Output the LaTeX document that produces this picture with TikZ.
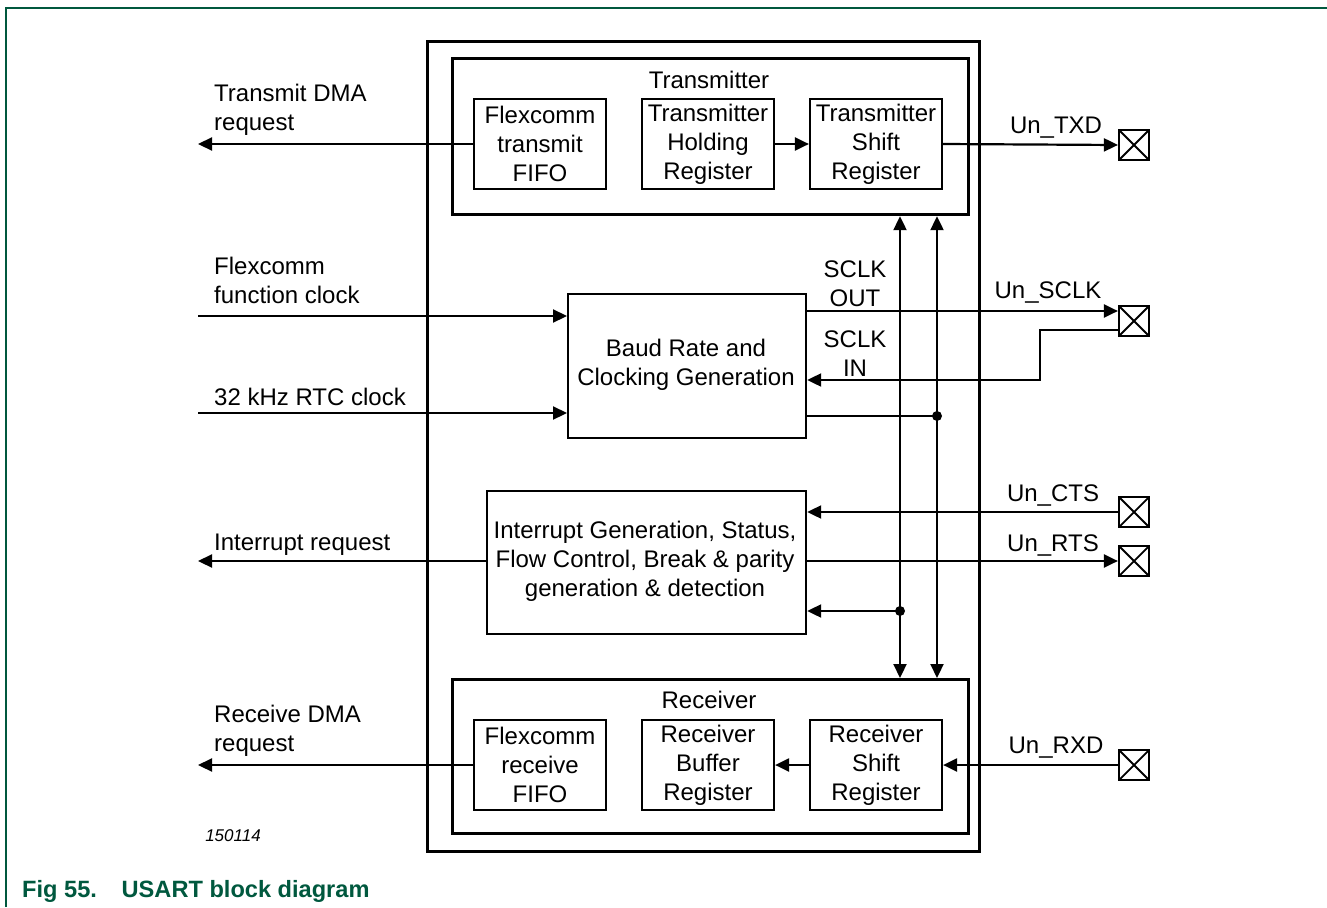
\documentclass[tikz,border=0pt]{standalone}
\usepackage{fontspec}
\setmainfont{Liberation Sans}
\usetikzlibrary{arrows.meta}
\definecolor{nxpgreen}{RGB}{0,88,62}
\tikzset{
  lbl/.style={font=\fontsize{24}{29}\selectfont, inner sep=0pt, align=center},
  lbll/.style={font=\fontsize{24}{29}\selectfont, inner sep=0pt, align=left, anchor=west},
  thickbox/.style={draw, line width=3.2pt},
  regbox/.style={draw, line width=2.2pt, minimum width=132pt, minimum height=90pt, inner sep=0pt, align=center, font=\fontsize{24}{29}\selectfont},
  blockbox/.style={draw, line width=2.2pt, inner sep=0pt, align=center, font=\fontsize{24}{29}\selectfont},
  pinbox/.style={draw, line width=2.2pt, minimum size=30pt, inner sep=0pt,
    path picture={\draw[line width=1.8pt] (path picture bounding box.north west) -- (path picture bounding box.south east)
      (path picture bounding box.north east) -- (path picture bounding box.south west);}},
  wire/.style={line width=2.2pt},
  arr/.style={line width=2.2pt, -{Triangle[length=14pt,width=13pt]}},
  darr/.style={line width=2.2pt, {Triangle[length=14pt,width=13pt]}-{Triangle[length=14pt,width=13pt]}},
  jdot/.style={circle, fill, inner sep=0pt, minimum size=10pt}
}
\begin{document}
\begin{tikzpicture}[x=1pt,y=-1pt]
\useasboundingbox (0,0) rectangle (1327,907);
% frame
\draw[nxpgreen, line width=2pt] (6,907) -- (6,8) -- (1327,8);
% outer box
\node[thickbox, minimum width=552pt, minimum height=810pt, anchor=north west] (outer) at (426,40) {};
% transmitter
\node[thickbox, minimum width=516pt, minimum height=156pt, anchor=north west] (trans) at (451,57) {};
\node[lbl] (translbl) at (709,80) {Transmitter};
\node[regbox] (tfifo) at (540,144) {Flexcomm\\transmit\\FIFO};
\node[regbox] (thold) at (708,144) {Transmitter\\Holding\\Register};
\node[regbox] (tshift) at (876,144) {Transmitter\\Shift\\Register};
% receiver
\node[thickbox, minimum width=516pt, minimum height=154pt, anchor=north west] (recv) at (451,678) {};
\node[lbl] (recvlbl) at (709,700) {Receiver};
\node[regbox] (rfifo) at (540,765) {Flexcomm\\receive\\FIFO};
\node[regbox] (rbuf) at (708,765) {Receiver\\Buffer\\Register};
\node[regbox] (rshift) at (876,765) {Receiver\\Shift\\Register};
% baud
\node[blockbox, minimum width=238pt, minimum height=144pt, anchor=north west] (baud) at (567,293) {};
\node[lbl] (baudtxt) at (686,365) {Baud Rate and\\Clocking Generation};
% interrupt
\node[blockbox, minimum width=319pt, minimum height=143pt, anchor=north west] (intr) at (486,490) {};
\node[lbl] (intrtxt) at (645,561) {Interrupt Generation, Status,\\Flow Control, Break \& parity\\generation \& detection};
% pins
\node[pinbox] (ptxd) at (1134,145) {};
\node[pinbox] (psclk) at (1134,321) {};
\node[pinbox] (pcts) at (1134,512) {};
\node[pinbox] (prts) at (1134,561) {};
\node[pinbox] (prxd) at (1134,765) {};
% left free ends
\coordinate (ltdma) at (198,144);
\coordinate (lfclk) at (198,316);
\coordinate (lrtc) at (198,413);
\coordinate (lint) at (198,561);
\coordinate (lrdma) at (198,765);
% left labels
\node[lbll] (tdmalbl) at (214,110) {Transmit DMA\\request};
\node[lbll] (fclklbl) at (214,280) {Flexcomm\\function clock};
\node[lbll] (rtclbl) at (214,397) {32 kHz RTC clock};
\node[lbll] (intlbl) at (214,545) {Interrupt request};
\node[lbll] (rdmalbl) at (214,731) {Receive DMA\\request};
% right labels
\node[lbl] (txdlbl) at (1056,128) {Un\_TXD};
\node[lbl] (sclklbl) at (1048,293) {Un\_SCLK};
\node[lbl] (ctslbl) at (1053,495) {Un\_CTS};
\node[lbl] (rtslbl) at (1053,545) {Un\_RTS};
\node[lbl] (rxdlbl) at (1056,748) {Un\_RXD};
\node[lbl] (sclkout) at (855,284) {SCLK\\OUT};
\node[lbl] (sclkin) at (855,354) {SCLK\\IN};
% transmitter connections
\draw[arr] (tfifo.west) -- (ltdma);
\draw[arr] (thold.east) -- (tshift.west);
\draw[arr] (tshift.east) -- (ptxd.west);
% receiver connections
\draw[arr] (rfifo.west) -- (lrdma);
\draw[arr] (rshift.west) -- (rbuf.east);
\draw[arr] (prxd.west) -- (rshift.east);
% clocks in
\draw[arr] (lfclk) -- (baud.west |- lfclk);
\draw[arr] (lrtc) -- (baud.west |- lrtc);
% interrupt out
\draw[arr] (intr.west |- lint) -- (lint);
% vertical buses
\coordinate (bus1) at (900,0);
\coordinate (bus2) at (937,0);
\draw[darr] (bus1 |- trans.south) -- (bus1 |- recv.north);
\draw[darr] (bus2 |- trans.south) -- (bus2 |- recv.north);
% sclk out / in
\coordinate (sclkoutl) at (805,311);
\draw[arr] (sclkoutl) -- (psclk.west |- sclkoutl);
\coordinate (sclkinp) at (1119,330);
\coordinate (sclkbend) at (1040,330);
\coordinate (sclkinl) at (1040,380);
\draw[arr] (sclkinp) -- (sclkbend) -- (sclkinl) -- (baud.east |- sclkinl);
% baud to bus2
\coordinate (baudj) at (937,416);
\draw[wire] (baud.east |- baudj) -- (baudj);
\node[jdot] (dot1) at (baudj) {};
% cts / rts
\draw[arr] (pcts.west) -- (intr.east |- pcts.west);
\draw[arr] (intr.east |- prts.west) -- (prts.west);
% bus1 to interrupt
\coordinate (intj) at (900,611);
\node[jdot] (dot2) at (intj) {};
\draw[arr] (intj) -- (intr.east |- intj);
% misc text
\node[font=\fontsize{17}{20}\selectfont\itshape, inner sep=0pt] (code) at (233,836) {150114};
\node[font=\fontsize{23.6}{28}\selectfont\bfseries, text=nxpgreen, inner sep=0pt, anchor=west] (cap) at (22,891) {Fig 55.\hspace{16pt} USART block diagram};
\end{tikzpicture}
\end{document}
